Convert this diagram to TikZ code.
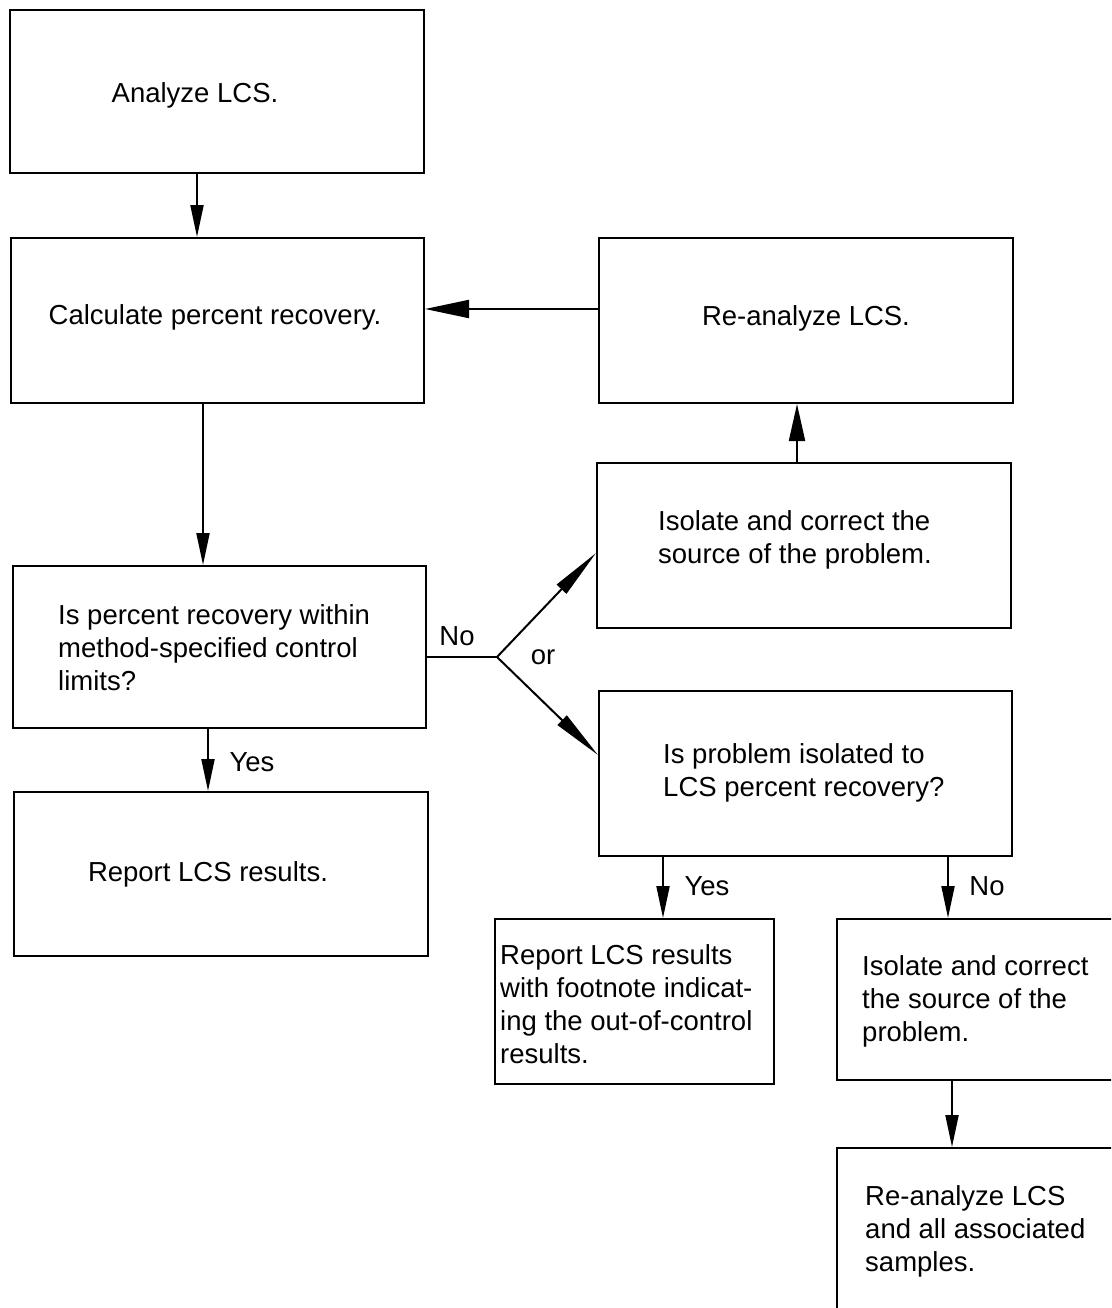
\documentclass[tikz,border=0pt]{standalone}
\usepackage{fontspec}
\setmainfont{Liberation Sans}
\usetikzlibrary{arrows.meta}
\begin{document}
\begin{tikzpicture}[x=1pt,y=-1pt,
  box/.style={draw, line width=2pt, rectangle, inner sep=0pt, anchor=north west},
  txt/.style={inner sep=0pt, align=left, font=\fontsize{27.5}{33}\selectfont},
  lab/.style={inner sep=0pt, font=\fontsize{27.5}{33}\selectfont},
  conn/.style={line width=2pt},
  arr/.style={line width=2pt, -{Triangle[length=32pt,width=13pt]}},
  arrw/.style={line width=2pt, -{Triangle[length=44pt,width=18pt]}},
  arru/.style={line width=2pt, -{Triangle[length=37pt,width=16pt]}},
  arrd/.style={line width=2pt, -{Triangle[length=50pt,width=13pt]}}
]
\useasboundingbox (0,0) rectangle (1111,1308);
\clip (0,0) rectangle (1111,1308);

% boxes
\node[box, minimum width=414pt, minimum height=163pt] (b1) at (9,9) {};
\node[box, minimum width=413pt, minimum height=165pt] (b2) at (10,237) {};
\node[box, minimum width=414pt, minimum height=165pt] (b3) at (598,237) {};
\node[box, minimum width=414pt, minimum height=165pt] (b4) at (596,462) {};
\node[box, minimum width=413pt, minimum height=162pt] (b5) at (12,565) {};
\node[box, minimum width=414pt, minimum height=164pt] (b6) at (13,791) {};
\node[box, minimum width=413pt, minimum height=165pt] (b7) at (598,690) {};
\node[box, minimum width=279pt, minimum height=165pt] (b8) at (494,918) {};
\node[box, minimum width=290pt, minimum height=161pt] (b9) at (836,918) {};
\node[box, minimum width=290pt, minimum height=180pt] (b10) at (836,1147) {};

% texts
\node[txt] (t1) at (195,95) {Analyze LCS.};
\node[txt] (t2) at (215,317) {Calculate percent recovery.};
\node[txt] (t3) at (806,318) {Re-analyze LCS.};
\node[txt, anchor=west] (t4) at (658,540) {Isolate and correct the\\source of the problem.};
\node[txt, anchor=west] (t5) at (58,648) {Is percent recovery within\\method-specified control\\limits?};
\node[txt] (t6) at (208,874) {Report LCS results.};
\node[txt, anchor=west] (t7) at (663,773) {Is problem isolated to\\LCS percent recovery?};
\node[txt, anchor=west] (t8) at (500,1004) {Report LCS results\\with footnote indicat-\\ing the out-of-control\\results.};
\node[txt, anchor=west] (t9) at (862,1001) {Isolate and correct\\the source of the\\problem.};
\node[txt, anchor=west] (t10) at (865,1231) {Re-analyze LCS\\and all associated\\samples.};

% labels
\node[lab] (lno1) at (457,636) {No};
\node[lab] (lor) at (543,657) {or};
\node[lab] (lyes1) at (252,762) {Yes};
\node[lab] (lyes2) at (707,886) {Yes};
\node[lab] (lno2) at (987,886) {No};

% helper coordinates
\coordinate (x197) at (197,0);
\coordinate (x203) at (203,0);
\coordinate (x208) at (208,0);
\coordinate (x663) at (663,0);
\coordinate (x797) at (797,0);
\coordinate (x948) at (948,0);
\coordinate (x952) at (952,0);
\coordinate (y309) at (0,309);
\coordinate (y553) at (0,553);
\coordinate (y755) at (0,755);
\coordinate (br) at (497,657);

% connectors
\draw[arr] (b1.south -| x197) -- (b2.north -| x197);
\draw[arr] (b2.south -| x203) -- (b5.north -| x203);
\draw[arrw] (b3.west |- y309) -- (b2.east |- y309);
\draw[arru] (b4.north -| x797) -- (b3.south -| x797);
\draw[conn] (b5.east |- br) -- (br);
\draw[arrd] (br) -- (b4.west |- y553);
\draw[arrd] (br) -- (b7.west |- y755);
\draw[arr] (b5.south -| x208) -- (b6.north -| x208);
\draw[arr] (b7.south -| x663) -- (b8.north -| x663);
\draw[arr] (b7.south -| x948) -- (b9.north -| x948);
\draw[arr] (b9.south -| x952) -- (b10.north -| x952);
\end{tikzpicture}
\end{document}
